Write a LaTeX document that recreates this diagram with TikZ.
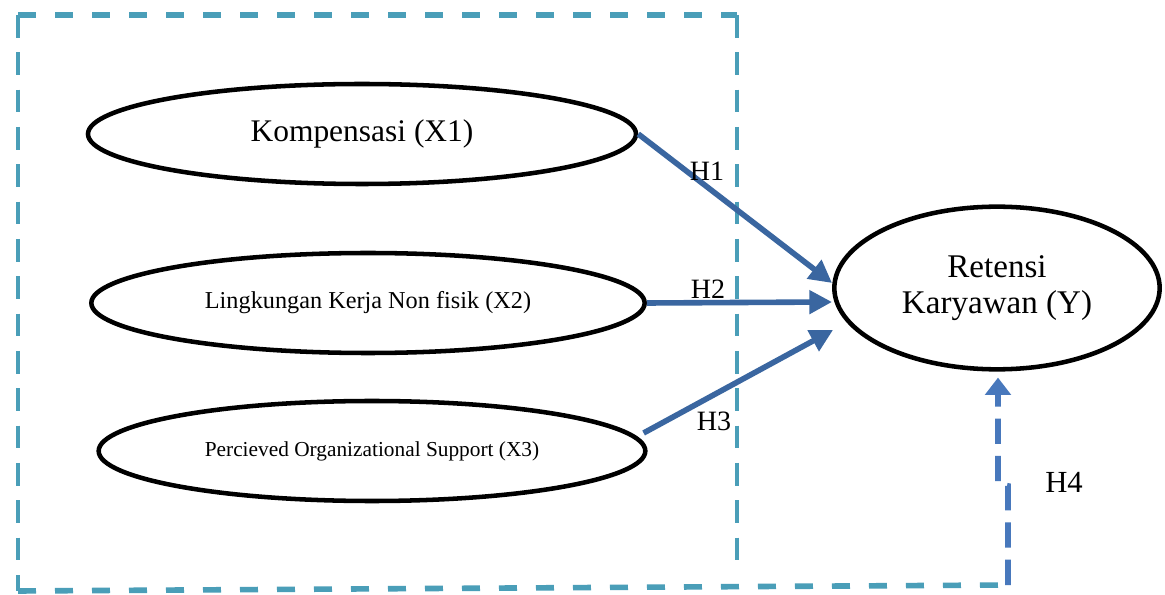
\documentclass[tikz,border=0pt]{standalone}
\usepackage{fontspec}
\setmainfont{Liberation Serif}
\usetikzlibrary{shapes.geometric,arrows.meta,calc}
\definecolor{boxteal}{RGB}{74,158,184}
\definecolor{hfour}{RGB}{72,120,188}
\definecolor{arrblue}{RGB}{58,102,160}
\begin{document}
\begin{tikzpicture}[x=0.75pt,y=-0.75pt,
  var/.style={draw=black, line width=3.4pt, ellipse, inner sep=0pt, align=center},
  hyp/.style={draw=arrblue, line width=4.2pt, -{Triangle[length=17pt,width=17pt]}},
  hfourarrow/.style={draw=hfour, line width=4.4pt, dash pattern=on 19pt off 9pt, -{Triangle[length=13pt,width=19pt]}},
  boxh/.style={draw=boxteal, line width=4.2pt, dash pattern=on 13.5pt off 14.25pt},
  boxv/.style={draw=boxteal, line width=3.4pt, dash pattern=on 17pt off 11pt},
  hlabel/.style={font=\fontsize{21}{24}\selectfont, inner sep=0pt}]
\useasboundingbox (0,0) rectangle (1165,595);
\fill[white] (0,0) rectangle (1165,595);
% dashed frame
\draw[boxh] (18,15) -- (737,15);
\draw[boxv] (18,15) -- (18,591);
\draw[boxv] (737,15) -- (737,562);
\coordinate (corner) at (1008,585);
\draw[boxh] (18,591) -- (corner);
% variables
\node[var, minimum width=411pt, minimum height=75pt, font=\fontsize{23.6}{28}\selectfont] (X1) at (362,134) {Kompensasi (X1)};
\node[var, minimum width=415pt, minimum height=75pt, font=\fontsize{18.2}{22}\selectfont] (X2) at (368,303) {Lingkungan Kerja Non fisik (X2)};
\node[var, minimum width=410pt, minimum height=75pt, font=\fontsize{16}{19}\selectfont] (X3) at (372,451) {Percieved Organizational Support (X3)};
\node[var, minimum width=244pt, minimum height=122pt, font=\fontsize{24.8}{27}\selectfont] (Y) at (997,288) {Retensi\\Karyawan (Y)};
% hypotheses
\draw[hyp] (X1.east) -- ($(Y.west)+(0,-5)$);
\draw[hyp] (X2.east) -- ($(Y.west)+(0,14)$);
\draw[hyp] ($(X3.east)+(-4,-18)$) -- ($(Y.west)+(1,42)$);
\draw[hfourarrow] (corner) -- (1008,486) -- (998,484) -- ($(Y.south)+(1,6)$);
% labels
\node[hlabel] (h1) at (707,171) {H1};
\node[hlabel] (h2) at (708,289) {H2};
\node[hlabel] (h3) at (714,421) {H3};
\node[hlabel, font=\fontsize{23}{26}\selectfont] (h4) at (1064,482) {H4};
\end{tikzpicture}
\end{document}
